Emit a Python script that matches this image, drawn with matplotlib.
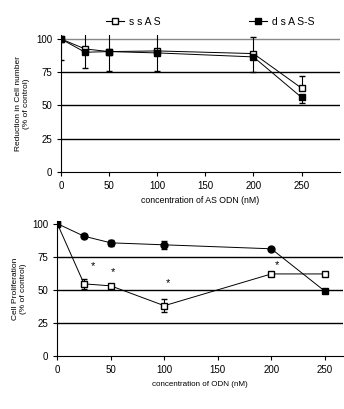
import matplotlib.pyplot as plt
import numpy as np

plt.rcParams['font.family'] = ['Liberation Sans', 'DejaVu Sans']

conc = [0, 25, 50, 100, 200, 250]

# top panel: reduction in cell number
top_ss = [100, 92.5, 90.5, 91, 89, 63]
top_ds = [100, 90, 90.5, 89.5, 86.5, 56]
top_ss_lo = [0, 14.5, 0, 0, 14, 0]
top_ss_hi = [0, 20, 0, 0, 12.5, 9]
top_ds_lo = [16, 0, 15, 14, 0, 4]
top_ds_hi = [0, 0, 20, 20, 0, 0]

# bottom panel: cell proliferation
bot_ss = [100, 54.5, 53, 38, 62, 62]
bot_ds = [100, 90.5, 85.5, 84, 81, 49]
bot_ss_err = [0, 3.5, 1.5, 5, 0, 0]
bot_ds_err = [0, 1.5, 2.5, 3, 1.5, 0]

star_x = [33, 52, 103, 205]
star_y = [68, 63.5, 55, 68.5]

fig = plt.figure(figsize=(3.44, 4.09), dpi=100)
W, H = 344, 409
ax1 = fig.add_axes([61 / W, 1 - 171.7 / H, (340 - 61) / W, (171.7 - 35) / H])
ax2 = fig.add_axes([57.3 / W, 1 - 356 / H, (343 - 57.3) / W, (356 - 221) / H])

# top
ax1.errorbar(conc, top_ss, yerr=[top_ss_lo, top_ss_hi], color='black', lw=0.7, marker='s',
             mfc='white', mec='black', ms=5, capsize=2.5, elinewidth=0.8, zorder=3)
ax1.errorbar(conc, top_ds, yerr=[top_ds_lo, top_ds_hi], color='black', lw=0.7, marker='s',
             mfc='black', mec='black', ms=4.5, capsize=2.5, elinewidth=0.8, zorder=4)
for v in [25, 50, 75]:
    ax1.axhline(v, color='black', lw=1, zorder=1)
ax1.axhline(100, color='#888888', lw=1, zorder=1)
ax1.set_xlim(0, 290)
ax1.set_ylim(0, 103)
ax1.set_xticks([0, 50, 100, 150, 200, 250])
ax1.set_yticks([0, 25, 50, 75, 100])
ax1.set_xlabel('concentration of AS ODN (nM)', fontsize=6.3)
ax1.set_ylabel('Reduction in Cell number\n(% of control)', fontsize=6)

# bottom
ax2.errorbar(conc, bot_ss, yerr=bot_ss_err, color='black', lw=0.7, marker='s',
             mfc='white', mec='black', ms=4, capsize=2, elinewidth=0.8, zorder=3)
ax2.errorbar(conc, bot_ds, yerr=bot_ds_err, color='black', lw=0.7, marker='none',
             capsize=2, elinewidth=0.8, zorder=4)
ax2.plot(conc[1:-1], bot_ds[1:-1], ls='none', marker='o', mfc='black', mec='black', ms=5, zorder=5)
ax2.plot([conc[0], conc[-1]], [bot_ds[0], bot_ds[-1]], ls='none', marker='s',
         mfc='black', mec='black', ms=4, zorder=5)
for x, y in zip(star_x, star_y):
    ax2.text(x, y, '*', fontsize=8, ha='center', va='center')
for v in [25, 50, 75]:
    ax2.axhline(v, color='black', lw=1, zorder=1)
ax2.set_xlim(0, 267)
ax2.set_ylim(0, 102)
ax2.set_xticks([0, 50, 100, 150, 200, 250])
ax2.set_yticks([0, 25, 50, 75, 100])
ax2.set_xlabel('concentration of ODN (nM)', fontsize=5.8)
ax2.set_ylabel('Cell Proliferation\n(% of control)', fontsize=6)

for ax in (ax1, ax2):
    for s in ['top', 'right']:
        ax.spines[s].set_visible(False)
    ax.tick_params(labelsize=7, length=3, width=0.8)
    ax.spines['left'].set_linewidth(0.8)
    ax.spines['bottom'].set_linewidth(0.8)

h1 = plt.Line2D([], [], color='black', lw=0.8, marker='s', mfc='white', mec='black', ms=5)
h2 = plt.Line2D([], [], color='black', lw=0.8, marker='s', mfc='black', mec='black', ms=4.5)
fig.legend([h1, h2], ['s s A S', 'd s A S-S'], loc='center', bbox_to_anchor=(0.61, 1 - 22 / H),
           ncol=2, frameon=False, fontsize=7.5, handlelength=1.8, columnspacing=8.5, handletextpad=0.4)

fig.savefig('out.png', dpi=100)
